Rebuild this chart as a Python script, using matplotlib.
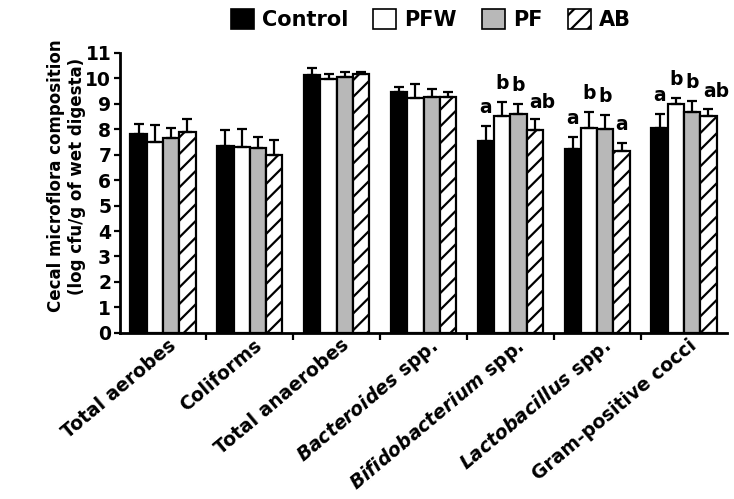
import numpy as np
import matplotlib
matplotlib.use("Agg")
import matplotlib.pyplot as plt
import matplotlib.transforms as mtransforms
from matplotlib.patches import Patch

plt.rcParams['font.family'] = ['DejaVu Sans']
plt.rcParams['font.weight'] = 'bold'
plt.rcParams['mathtext.fontset'] = 'custom'
plt.rcParams['mathtext.rm'] = 'DejaVu Sans:bold'
plt.rcParams['mathtext.bf'] = 'DejaVu Sans:bold'
plt.rcParams['mathtext.it'] = 'DejaVu Sans:italic:bold'
plt.rcParams['mathtext.bfit'] = 'DejaVu Sans:italic:bold'
plt.rcParams['hatch.linewidth'] = 1.6

# data
categories = ['Total aerobes', 'Coliforms', 'Total anaerobes',
              r'$\mathbfit{Bacteroides}$ spp.', r'$\mathbfit{Bifidobacterium}$ spp.',
              r'$\mathbfit{Lactobacillus}$ spp.', 'Gram-positive cocci']
groups = ['Control', 'PFW', 'PF', 'AB']
control = [7.80, 7.35, 10.13, 9.45, 7.53, 7.23, 8.06]
pfw = [7.49, 7.30, 9.99, 9.21, 8.51, 8.06, 8.98]
pf = [7.66, 7.27, 10.07, 9.27, 8.61, 8.01, 8.69]
ab = [7.88, 6.99, 10.16, 9.25, 7.98, 7.15, 8.52]
control_err = [0.42, 0.61, 0.29, 0.22, 0.60, 0.47, 0.55]
pfw_err = [0.66, 0.69, 0.18, 0.57, 0.55, 0.62, 0.25]
pf_err = [0.37, 0.43, 0.19, 0.33, 0.37, 0.54, 0.43]
ab_err = [0.51, 0.60, 0.08, 0.20, 0.41, 0.32, 0.29]
letters = {4: ['a', 'b', 'b', 'ab'], 5: ['a', 'b', 'b', 'a'], 6: ['a', 'b', 'b', 'ab']}

values = [control, pfw, pf, ab]
errors = [control_err, pfw_err, pf_err, ab_err]
faces = ['black', 'white', '#b8b8b8', 'white']
hatches = [None, None, None, '//']

fig = plt.figure(figsize=(7.34, 4.99), dpi=100)
ax = fig.add_axes([0.163, 0.333, 0.828, 0.561])

x = np.arange(len(categories))
w = 0.1875
for i in range(4):
    pos = x + (i - 1.5) * w
    ax.bar(pos, values[i], w, color=faces[i], edgecolor='black', linewidth=1.6,
           hatch=hatches[i], yerr=[np.zeros(len(x)), errors[i]],
           error_kw=dict(ecolor='black', elinewidth=1.6, capsize=3.5, capthick=1.6),
           zorder=2)
    for j, lst in letters.items():
        # two-letter marks start near the bar centre, single letters are centred
        if len(lst[i]) > 1:
            ax.text(pos[j] - 0.06, values[i][j] + errors[i][j] + 0.3, lst[i],
                    ha='left', va='bottom', fontsize=13.5, fontweight='bold')
        else:
            ax.text(pos[j], values[i][j] + errors[i][j] + 0.35, lst[i], ha='center',
                    va='bottom', fontsize=13.5, fontweight='bold')

ax.set_xlim(-0.5, len(categories) - 0.5)
ax.set_ylim(0, 11)
ax.set_yticks(range(0, 12))
ax.tick_params(axis='y', labelsize=13.5, width=1.6, length=4, pad=2)
ax.set_xticks(x)
ax.set_xticklabels(categories, rotation=40, ha='right', rotation_mode='anchor',
                   fontsize=13.5, fontweight='bold')
ax.tick_params(axis='x', length=0, pad=2)
shift = mtransforms.ScaledTranslation(4 / 100, 0, fig.dpi_scale_trans)
for lab in ax.get_xticklabels():
    lab.set_transform(lab.get_transform() + shift)
ax.set_xticks(np.arange(0.5, len(categories) - 0.5), minor=True)
ax.tick_params(axis='x', which='minor', length=5, width=1.6)
for s in ['top', 'right']:
    ax.spines[s].set_visible(False)
for s in ['left', 'bottom']:
    ax.spines[s].set_linewidth(2)
for lab in ax.get_yticklabels():
    lab.set_fontweight('bold')

ax.set_ylabel('Cecal microflora composition\n(log cfu/g of wet digesta)',
              fontsize=12, fontweight='bold')
ax.yaxis.set_label_coords(-0.055, 0.56)

handles = [Patch(facecolor=faces[i], edgecolor='black', hatch=hatches[i], linewidth=1.2)
           for i in range(4)]
fig.legend(handles, groups, loc='upper center', bbox_to_anchor=(0.587, 1.02), ncol=4,
           frameon=False, prop={'weight': 'bold', 'size': 15}, handlelength=1.1,
           handleheight=1.1, columnspacing=1.2, handletextpad=0.4)

fig.savefig('out.png', dpi=100)
